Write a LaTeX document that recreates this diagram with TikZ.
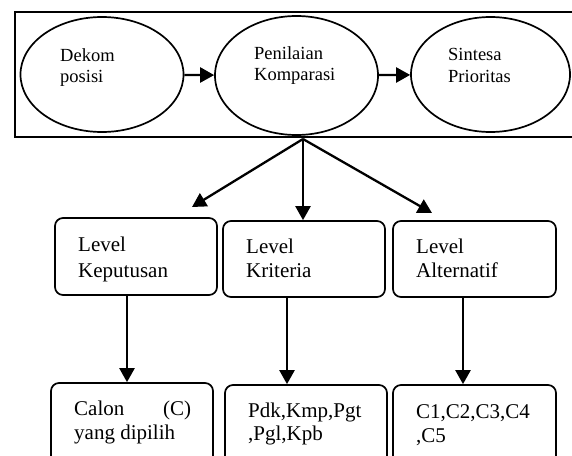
\documentclass[tikz,border=0pt]{standalone}
\usepackage{fontspec}
\setmainfont{Liberation Serif}
\usetikzlibrary{arrows.meta,shapes.geometric,calc}
\newcommand\twol[3]{\vtop{\baselineskip=#1\hbox{#2}\hbox{#3}}}
\begin{document}
\begin{tikzpicture}[x=1pt,y=-1pt,
  ell/.style={draw,ellipse,line width=1.7pt,inner sep=0pt,minimum width=163pt},
  boxn/.style={draw,rectangle,rounded corners=8pt,line width=1.7pt,inner sep=0pt,minimum width=162pt},
  txt/.style={anchor=base west,inner sep=0pt,align=left},
  etxt/.style={txt,font=\fontsize{18.5}{21.5}\selectfont},
  btxt/.style={txt,font=\fontsize{21}{25}\selectfont},
  arr/.style={line width=2.3pt,-{Triangle[length=14pt 0,width=15pt 0]}}]
\useasboundingbox (0,0) rectangle (572,455);
% frame (open at the right edge)
\draw[line width=2pt] (575,12) -- (15,12) -- (15,137) -- (575,137);
% ellipses
\node[ell,minimum height=115pt] (e1) at (102,74.5) {};
\node[ell,minimum height=119pt] (e2) at (296.5,75.5) {};
\node[ell,minimum height=115pt,minimum width=159pt] (e3) at (490.5,74.5) {};
\node[etxt] (t1) at (60,61) {\twol{21.5pt}{Dekom}{posisi}};
\node[etxt] (t2) at (254,59) {\twol{21pt}{Penilaian}{Komparasi}};
\node[etxt] (t3) at (448,60) {\twol{22pt}{Sintesa}{Prioritas}};
\draw[arr] (e1) -- (e2);
\draw[arr] (e2) -- (e3);
% level boxes
\node[boxn,minimum height=77pt] (b1) at (136,256.5) {};
\node[boxn,minimum height=76pt] (b2) at (304,259) {};
\node[boxn,minimum width=163pt,minimum height=76pt] (b3) at (474.5,259) {};
\node[btxt] (tb1) at (78,251) {\twol{26pt}{Level}{Keputusan}};
\node[btxt] (tb2) at (246,253) {\twol{24pt}{Level}{Kriteria}};
\node[btxt] (tb3) at (416,253) {\twol{24pt}{Level}{Alternatif}};
% bottom boxes (cut off by the page edge)
\node[boxn,minimum height=87pt] (c1) at (132,426.5) {};
\node[boxn,minimum height=85pt] (c2) at (306,427.5) {};
\node[boxn,minimum width=163pt,minimum height=85pt] (c3) at (474.5,427.5) {};
\node[btxt] (tc1) at (74,415) {\twol{24pt}{\hbox to 117pt{Calon\hfill(C)}}{yang dipilih}};
\node[btxt] (tc2) at (248,417) {\twol{23.5pt}{Pdk,Kmp,Pgt}{,Pgl,Kpb}};
\node[btxt] (tc3) at (416,418) {\twol{24pt}{C1,C2,C3,C4}{,C5}};
% connectors from hub
\coordinate (hub) at (303,139);
\coordinate (k1) at (192,207);
\coordinate (k3) at (432,213);
\draw[arr] (hub) -- (k1);
\draw[arr] (hub) -- (hub |- b2.north);
\draw[arr] (hub) -- (k3);
% lower connectors
\draw[arr] ([xshift=-5pt]c1.north |- b1.south) -- ([xshift=-5pt]c1.north);
\draw[arr] ([xshift=-19pt]c2.north |- b2.south) -- ([xshift=-19pt]c2.north);
\draw[arr] ([xshift=-11.5pt]c3.north |- b3.south) -- ([xshift=-11.5pt]c3.north);
\end{tikzpicture}
\end{document}
